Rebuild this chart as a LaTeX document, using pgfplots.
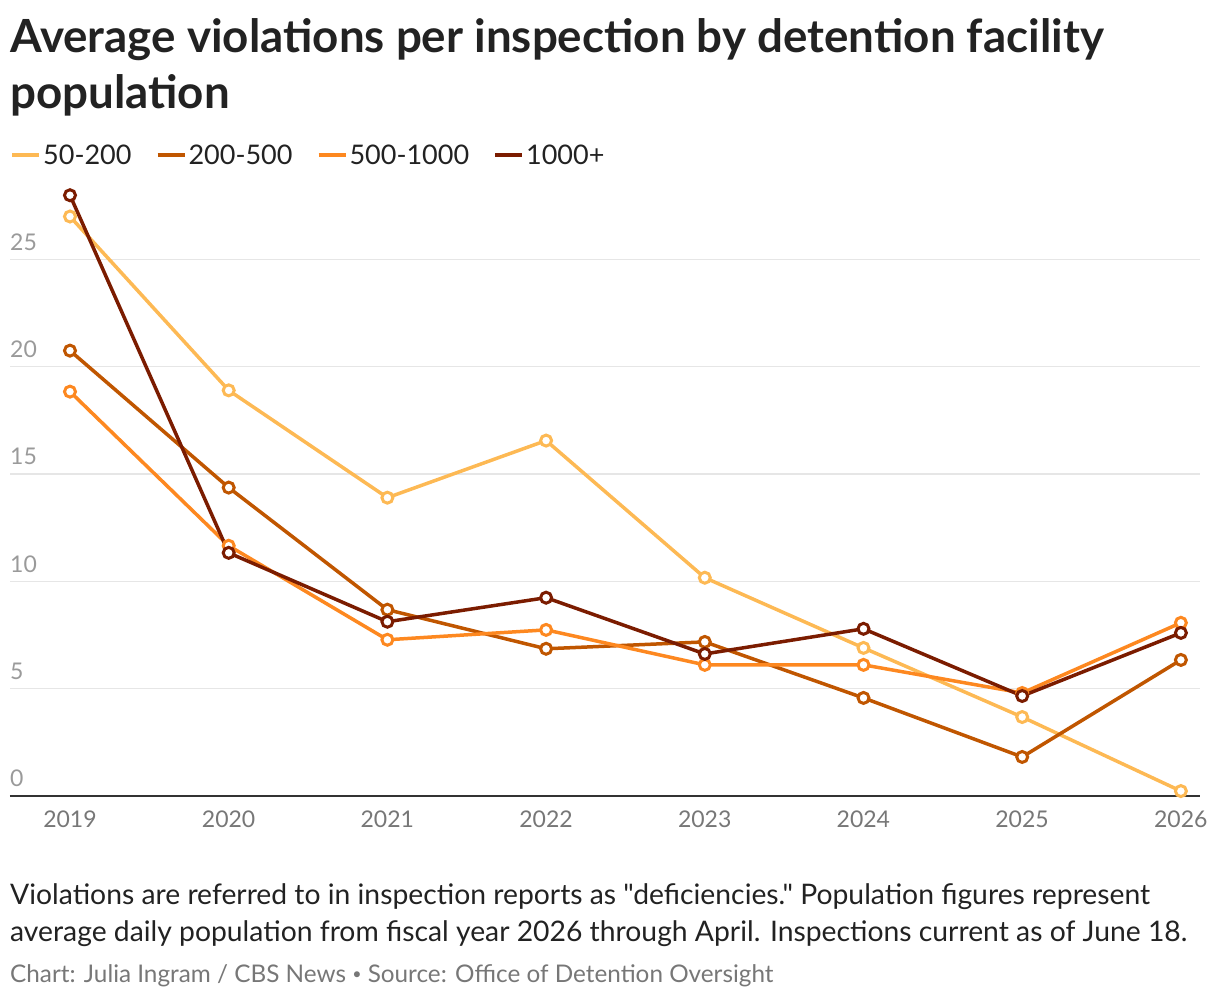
\documentclass[border=0pt]{standalone}
\usepackage{fontspec}
\setmainfont{Lato}[Ligatures=TeXOff]
\usepackage{pgfplots}
\pgfplotsset{compat=1.18}
\definecolor{cA}{HTML}{FDB954}
\definecolor{cB}{HTML}{C05600}
\definecolor{cC}{HTML}{FD8820}
\definecolor{cD}{HTML}{7B1C00}
\definecolor{titlec}{HTML}{222222}
\definecolor{tickc}{HTML}{777777}
\definecolor{ytickc}{HTML}{9A9A9A}
\definecolor{gridc}{HTML}{E6E6E6}
\begin{document}
\begin{tikzpicture}[x=1pt,y=1pt]
\path[use as bounding box] (0,0) rectangle (1220,-1002);
\node[anchor=base west, inner sep=0, font=\fontsize{45.7}{52}\selectfont\bfseries, text=titlec] at (10,-52) {Average violations per inspection by detention facility};
\node[anchor=base west, inner sep=0, font=\fontsize{45.7}{52}\selectfont\bfseries, text=titlec] at (10,-108) {population};
\begin{axis}[
  at={(10pt,-796pt)}, anchor=south west,
  scale only axis, width=1190pt, height=616pt,
  xmin=2018.622, xmax=2026.12, ymin=0, ymax=28.7,
  axis line style={draw=none},
  major tick length=0pt,
  xtick={2019,...,2026},
  ytick={0,5,10,15,20,25},
  ymajorgrids, grid style={color=gridc, line width=1.5pt},
  /pgf/number format/assume math mode=true,
  /pgf/number format/set thousands separator={},
  xticklabel style={text=tickc, inner sep=0pt, anchor=north, yshift=-15pt, font=\fontsize{23}{27}\selectfont},
  yticklabel style={text=ytickc, inner sep=0pt, anchor=south west, yshift=9pt, font=\fontsize{23}{27}\selectfont},
  clip=false,
  legend columns=4,
  legend style={at={(0,1)}, anchor=west, yshift=25pt, draw=none, fill=none, inner sep=0pt,
    font=\fontsize{27}{31}\selectfont, text=titlec,
    /tikz/every even column/.append style={column sep=22pt}},
  legend image code/.code={\draw[#1, line width=4pt, mark=none] (0pt,0pt) -- (27pt,0pt);},
  every axis plot/.append style={line width=3.5pt, mark=*, mark size=5.5pt, mark options={fill=white, line width=3pt, solid}},
]
\draw[color=black!80, line width=2.5pt] (axis cs:2018.622,0) -- (axis cs:2026.12,0);
\addplot[color=cA] coordinates {(2019,27.0) (2020,18.9) (2021,13.9) (2022,16.56) (2023,10.17) (2024,6.9) (2025,3.68) (2026,0.23)};
\addlegendentry{50-200}
\addplot[color=cB] coordinates {(2019,20.75) (2020,14.37) (2021,8.68) (2022,6.86) (2023,7.18) (2024,4.57) (2025,1.82) (2026,6.34)};
\addlegendentry{200-500}
\addplot[color=cC] coordinates {(2019,18.84) (2020,11.66) (2021,7.28) (2022,7.74) (2023,6.11) (2024,6.11) (2025,4.80) (2026,8.07)};
\addlegendentry{500-1000}
\addplot[color=cD] coordinates {(2019,27.99) (2020,11.33) (2021,8.12) (2022,9.24) (2023,6.62) (2024,7.79) (2025,4.66) (2026,7.6)};
\addlegendentry{1000+}
\end{axis}
\node[anchor=base west, inner sep=0, font=\fontsize{28.3}{33}\selectfont, text=titlec] at (10,-904) {Violations are referred to in inspection reports as "deficiencies." Population figures represent};
\node[anchor=base west, inner sep=0, font=\fontsize{28.3}{33}\selectfont, text=titlec] at (10,-941) {average daily population from fiscal year 2026 through April. Inspections current as of June 18.};
\node[anchor=base west, inner sep=0, font=\fontsize{24.3}{28}\selectfont, text=tickc] at (10,-982) {Chart: Julia Ingram / CBS News {\fontsize{16}{18}\selectfont\raisebox{2.5pt}{•}} Source: Office of Detention Oversight};
\end{tikzpicture}
\end{document}
